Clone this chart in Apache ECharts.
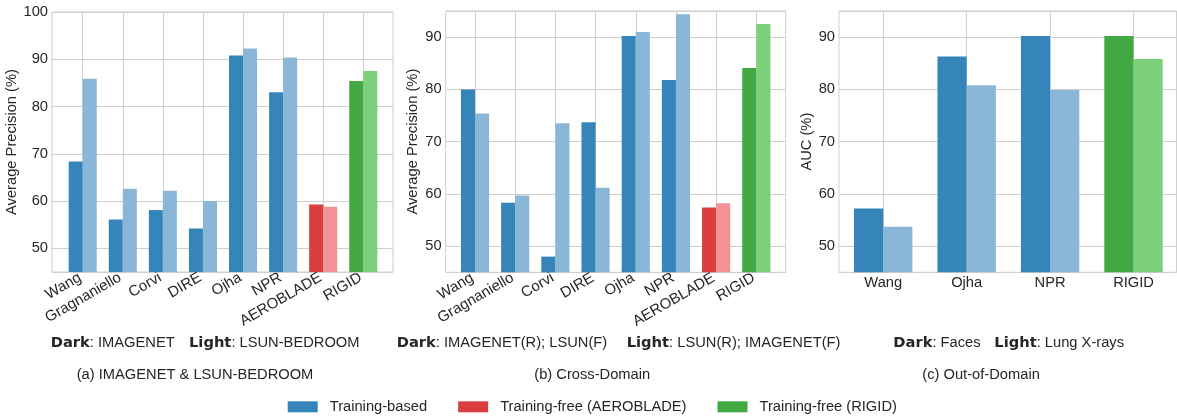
<!DOCTYPE html>
<html><head><meta charset="utf-8">
<script src="https://cdn.jsdelivr.net/npm/echarts@6/dist/echarts.min.js"></script>
<style>html,body{margin:0;padding:0;background:#fff}#c{width:1177px;height:419px}</style>
</head><body><div id="c"></div><script>
// ---- data ----
const catsAB = ['Wang', 'Gragnaniello', 'Corvi', 'DIRE', 'Ojha', 'NPR', 'AEROBLADE', 'RIGID'];
const groupsAB = ['based', 'based', 'based', 'based', 'based', 'based', 'aero', 'rigid'];
const aDark = [68.4, 56.1, 58.1, 54.2, 90.8, 83.0, 59.3, 85.4];
const aLight = [85.9, 62.6, 62.2, 60.0, 92.3, 90.4, 58.8, 87.5];
const bDark = [80.0, 58.3, 48.0, 73.7, 90.2, 81.8, 57.4, 84.1];
const bLight = [75.4, 59.7, 73.5, 61.2, 91.0, 94.4, 58.2, 92.5];
const catsC = ['Wang', 'Ojha', 'NPR', 'RIGID'];
const groupsC = ['based', 'based', 'based', 'rigid'];
const cDark = [57.2, 86.3, 90.2, 90.2];
const cLight = [53.7, 80.8, 79.9, 85.8];
const yNames = ['Average Precision (%)', 'Average Precision (%)', 'AUC (%)'];
const yMax = [100, 95, 95];
const yMin = 45;
const legendNames = ['Training-based', 'Training-free (AEROBLADE)', 'Training-free (RIGID)'];
const legendGroups = ['based', 'aero', 'rigid'];

// ---- styles / layout ----
const FONT = 'Liberation Sans, Arial, Helvetica, sans-serif';
const BFONT = 'DejaVu Sans, Liberation Sans, sans-serif';
const TXT = '#262626';
const GRIDC = '#cfcfcf';
const FS = 14.7;
const colors = {
  based: { dark: '#3585bb', light: '#8ab7d7' },
  aero: { dark: '#da3d3e', light: '#f39294' },
  rigid: { dark: '#42a942', light: '#7cd07a' }
};
const panels = [
  { cats: catsAB, groups: groupsAB, dark: aDark, light: aLight,
    outer: { left: 52, top: 12, width: 341, height: 260 }, padL: 0.766, padR: 0.741,
    rotate: 30, labelMargin: 3, labelPad: [0, 3, 0, 0], labelFS: 15, nameGap: 31 },
  { cats: catsAB, groups: groupsAB, dark: bDark, light: bLight,
    outer: { left: 445.7, top: 11, width: 340, height: 261.3 }, padL: 0.729, padR: 0.731,
    rotate: 30, labelMargin: 3, labelPad: [0, 3, 0, 0], labelFS: 15, nameGap: 25 },
  { cats: catsC, groups: groupsC, dark: cDark, light: cLight,
    outer: { left: 839, top: 11, width: 337.5, height: 261.3 }, padL: 0.53, padR: 0.515,
    rotate: 0, labelMargin: 3, labelPad: 0, labelFS: FS, nameGap: 24 }
];

const grid = [], xAxis = [], yAxis = [], series = [];
panels.forEach((p, k) => {
  const o = 2 * k, n = 2 * k + 1;
  const nc = p.cats.length;
  const xmin = -p.padL, xmax = nc - 1 + p.padR;
  const pxPerUnit = p.outer.width / (xmax - xmin);
  const innerLeft = p.outer.left + (0 - xmin) * pxPerUnit;
  const innerWidth = (nc - 1) * pxPerUnit;
  const bw = 0.35 * pxPerUnit;
  // outer grid: frame, y axis, horizontal grid lines, bars (value x axis)
  grid.push(Object.assign({}, p.outer, { show: true, borderColor: GRIDC, borderWidth: 1, outerBoundsMode: 'none', containLabel: false }));
  // inner grid: category labels + vertical grid lines
  grid.push({ left: innerLeft, width: innerWidth, top: p.outer.top, height: p.outer.height, outerBoundsMode: 'none', containLabel: false });
  xAxis.push({ gridIndex: o, type: 'value', min: xmin, max: xmax, show: false });
  xAxis.push({
    gridIndex: n, type: 'category', boundaryGap: false, data: p.cats,
    axisLine: { show: false }, axisTick: { show: false },
    splitLine: { show: true, interval: 0, lineStyle: { color: GRIDC, width: 1 } },
    axisLabel: { interval: 0, rotate: p.rotate, margin: p.labelMargin, padding: p.labelPad, fontSize: p.labelFS, color: TXT, fontFamily: FONT }
  });
  yAxis.push({
    gridIndex: o, type: 'value', min: yMin, max: yMax[k], minInterval: 10, maxInterval: 10,
    axisLine: { show: false }, axisTick: { show: false },
    splitLine: { show: true, lineStyle: { color: GRIDC, width: 1 } },
    axisLabel: { showMinLabel: false, showMaxLabel: yMax[k] % 10 === 0, margin: 4, fontSize: FS, color: TXT, fontFamily: FONT },
    name: yNames[k], nameLocation: 'middle', nameGap: p.nameGap,
    nameTextStyle: { fontSize: FS, color: TXT, fontFamily: FONT }
  });
  yAxis.push({ gridIndex: n, type: 'value', min: yMin, max: yMax[k], show: false });
  series.push({
    type: 'bar', xAxisIndex: o, yAxisIndex: o, barWidth: bw, barGap: '0%', silent: true,
    data: p.dark.map((v, i) => ({ value: [i, v], itemStyle: { color: colors[p.groups[i]].dark } }))
  });
  series.push({
    type: 'bar', xAxisIndex: o, yAxisIndex: o, barWidth: bw, barGap: '0%', silent: true,
    data: p.light.map((v, i) => ({ value: [i, v], itemStyle: { color: colors[p.groups[i]].light } }))
  });
});
// legend-only series on the (hidden) inner y axis of panel c
legendNames.forEach((nm, i) => {
  series.push({ name: nm, type: 'bar', xAxisIndex: 5, yAxisIndex: 5, data: [], itemStyle: { color: colors[legendGroups[i]].dark } });
});

const rich = { b: { fontWeight: 'bold', fontSize: FS, color: TXT, fontFamily: BFONT } };
function cap(text, left, top) {
  return { text: text, left: left, top: top, padding: 0,
    textStyle: { fontSize: FS, fontWeight: 'normal', color: TXT, fontFamily: FONT, rich: rich } };
}
const title = [
  cap('{b|Dark}: IMAGENET', 50.7, 335.5),
  cap('{b|Light}: LSUN-BEDROOM', 189, 335.5),
  cap('(a) IMAGENET & LSUN-BEDROOM', 76.7, 367.5),
  cap('{b|Dark}: IMAGENET(R); LSUN(F)', 396.7, 335.5),
  cap('{b|Light}: LSUN(R); IMAGENET(F)', 626.7, 335.5),
  cap('(b) Cross-Domain', 534.3, 367.5),
  cap('{b|Dark}: Faces', 893.3, 335.5),
  cap('{b|Light}: Lung X-rays', 994.3, 335.5),
  cap('(c) Out-of-Domain', 922.3, 367.5)
];

const chart = echarts.init(document.getElementById('c'), null, { renderer: 'canvas' });
chart.setOption({
  animation: false,
  backgroundColor: '#fff',
  title: title,
  legend: {
    data: legendNames, left: 287.7, top: 399.3, padding: 0, itemWidth: 30, itemHeight: 11, itemGap: 31,
    icon: 'rect', selectedMode: false,
    textStyle: { fontSize: FS, color: TXT, fontFamily: FONT, padding: [0, 0, 0, 7] }
  },
  grid: grid, xAxis: xAxis, yAxis: yAxis, series: series
});
</script></body></html>
